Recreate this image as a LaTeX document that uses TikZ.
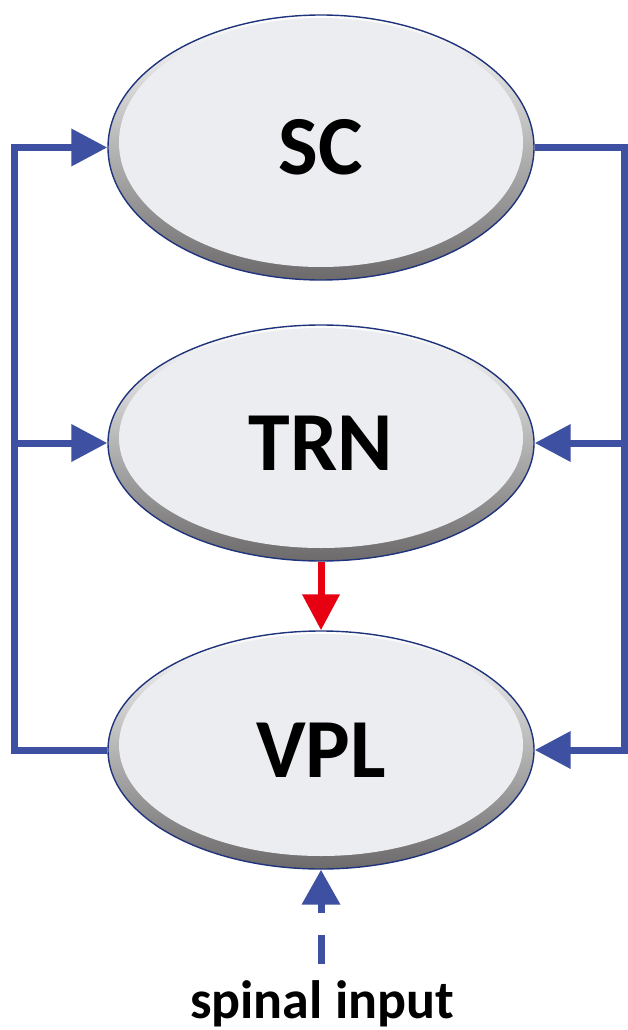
\documentclass[tikz,border=0pt]{standalone}
\usepackage{fontspec}
\setmainfont{Carlito}
\usetikzlibrary{shapes.geometric,arrows.meta}
\definecolor{connblue}{RGB}{62,80,162}
\definecolor{edgeblue}{RGB}{32,52,125}
\definecolor{innerfill}{RGB}{236,237,240}
\definecolor{bevelgray}{RGB}{108,106,106}
\definecolor{inhibred}{RGB}{230,0,18}
\tikzset{
  region/.style n args={2}{ellipse, inner sep=0pt,
    minimum width=#1pt, minimum height=#2pt,
    draw=edgeblue, line width=1.4pt,
    top color=white, bottom color=bevelgray,
    font=\bfseries\fontsize{84}{84}\selectfont,
    path picture={\fill[innerfill] ([yshift=5pt]path picture bounding box.center)
      ellipse [x radius=#1pt/2-11pt, y radius=#2pt/2-8pt];}},
  conn/.style={draw=connblue, line width=7pt, line join=miter},
  redconn/.style={draw=inhibred, line width=7pt},
  bigtip/.tip={Triangle[length=36pt,width=36pt]},
  inlabel/.style={font=\bfseries\fontsize{54}{54}\selectfont, anchor=base}
}
\begin{document}
\begin{tikzpicture}[x=1pt,y=-1pt]
\useasboundingbox (0,0) rectangle (628,1030);
\node[region={426}{265}] (SC)  at (321,147.5) {SC};
\node[region={426}{236}] (TRN) at (321,443) {TRN};
\node[region={426}{238}] (VPL) at (321,750) {VPL};
\coordinate (lx) at (14,0);
\coordinate (rx) at (624,0);
\coordinate (sp) at (321,964);
\node[inlabel] (spin) at (322,1018) {spinal input};
% left feedback
\draw[conn,-bigtip] (VPL.west) -- (VPL.west -| lx) -- (SC.west -| lx) -- (SC.west);
\draw[conn,-bigtip] (TRN.west -| lx) -- (TRN.west);
% right projection
\draw[conn,-bigtip] (SC.east) -- (SC.east -| rx) -- (VPL.east -| rx) -- (VPL.east);
\draw[conn,-bigtip] (TRN.east -| rx) -- (TRN.east);
% inhibitory
\draw[redconn,-bigtip] (TRN.south) -- (VPL.north);
% spinal input
\draw[conn,dash pattern=on 29pt off 22pt,-{Triangle[length=35pt,width=37pt]}] (sp) -- (VPL.south);
\end{tikzpicture}
\end{document}
